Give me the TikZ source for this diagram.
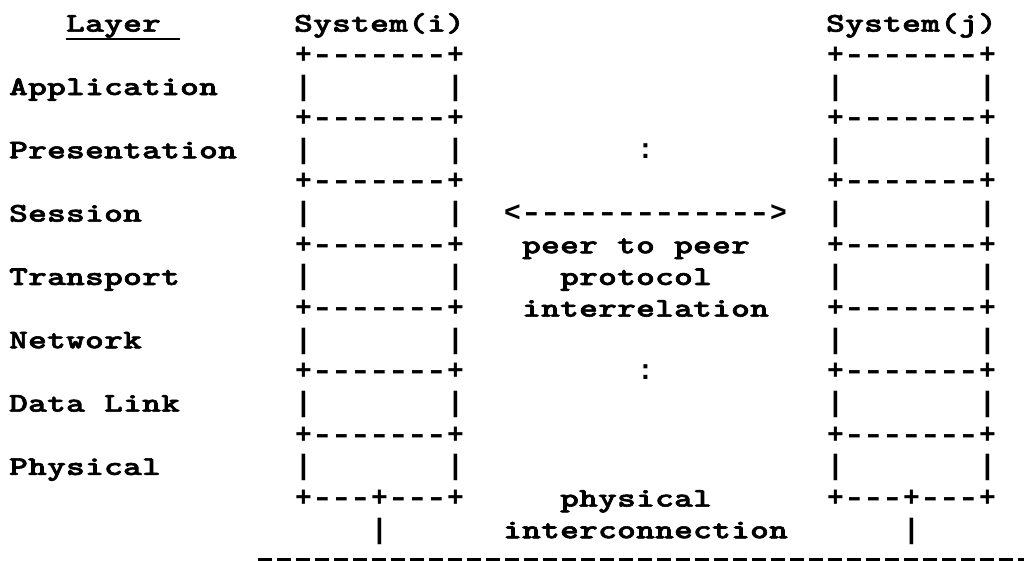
\documentclass[tikz,border=0pt]{standalone}
\usepackage{fontspec}
\usepackage{graphicx}
\newfontfamily\asciifont{lmmonolt10-bold}[Extension=.otf, FakeBold=2]
\newfontfamily\boxfont{Liberation Mono}
\def\monoscale{1}
\makeatletter
\def\mono#1{\mono@#1\@nil}
\def\mono@#1{\ifx#1\@nil\else
  \ifx#1-\makebox[19pt][c]{\scalebox{1.35}[1]{-}}\else
  \makebox[19pt][c]{\scalebox{\monoscale}[1]{#1}}\fi
  \expandafter\mono@\fi}
\makeatother
\begin{document}
\begin{tikzpicture}[x=1pt,y=-1pt,
  ascii/.style={font={\asciifont\fontsize{27pt}{27pt}\selectfont\def\monoscale{1.32}},
    anchor=base west, inner sep=0pt, outer sep=0pt},
  boxch/.style={font={\boxfont\bfseries\fontsize{28pt}{28pt}\selectfont\def\monoscale{1}},
    anchor=base west, inner sep=0pt, outer sep=0pt},
  wirestyle/.style={line width=3.6pt, dash pattern=on 14pt off 5pt}]
\clip (0,0) rectangle (1024,561);
\def\cx#1{9+#1*19}
\def\ry#1{31.7+#1*31.66}
% header
\node[ascii] (layer) at ({\cx{3}},{\ry{0}}) {\mono{Layer}};
\draw[line width=2.4pt] ([yshift=-7.6pt]layer.base west) -- ++(114,0) coordinate (layerend);
\node[ascii] (sysi) at ({\cx{15}},{\ry{0}}) {\mono{System(i)}};
\node[ascii] (sysj) at ({\cx{43}},{\ry{0}}) {\mono{System(j)}};
% layer names
\node[ascii] (app)  at ({\cx{0}},{\ry{2}})  {\mono{Application}};
\node[ascii] (pres) at ({\cx{0}},{\ry{4}})  {\mono{Presentation}};
\node[ascii] (sess) at ({\cx{0}},{\ry{6}})  {\mono{Session}};
\node[ascii] (trans) at ({\cx{0}},{\ry{8}}) {\mono{Transport}};
\node[ascii] (net)  at ({\cx{0}},{\ry{10}}) {\mono{Network}};
\node[ascii] (dl)   at ({\cx{0}},{\ry{12}}) {\mono{Data~Link}};
\node[ascii] (phys) at ({\cx{0}},{\ry{14}}) {\mono{Physical}};
% boxes
\foreach \r in {1,3,5,7,9,11,13} {
  \node[boxch] (li\r) at ({\cx{15}},{\ry{\r}}) {\mono{+-------+}};
  \node[boxch] (ri\r) at ({\cx{43}},{\ry{\r}}) {\mono{+-------+}};
}
\foreach \r in {2,4,6,8,10,12,14} {
  \node[boxch] (lbl\r) at ({\cx{15}},{\ry{\r}}) {\mono{|}};
  \node[boxch] (lbr\r) at ({\cx{23}},{\ry{\r}}) {\mono{|}};
  \node[boxch] (rbl\r) at ({\cx{43}},{\ry{\r}}) {\mono{|}};
  \node[boxch] (rbr\r) at ({\cx{51}},{\ry{\r}}) {\mono{|}};
}
\node[boxch] (lbot) at ({\cx{15}},{\ry{15}}) {\mono{+---+---+}};
\node[boxch] (rbot) at ({\cx{43}},{\ry{15}}) {\mono{+---+---+}};
\node[boxch] (lstem) at ({\cx{19}},{\ry{16}}) {\mono{|}};
\node[boxch] (rstem) at ({\cx{47}},{\ry{16}}) {\mono{|}};
% middle texts
\node[boxch] (dots1) at ({\cx{33}},{\ry{4}}) {\mono{:}};
\node[boxch] (arrow) at ({\cx{26}},{\ry{6}}) {\mono{<------------->}};
\node[ascii] (peer)  at ({\cx{27}},{\ry{7}}) {\mono{peer~to~peer}};
\node[ascii] (proto) at ({\cx{29}},{\ry{8}}) {\mono{protocol}};
\node[ascii] (inter) at ({\cx{27}},{\ry{9}}) {\mono{interrelation}};
\node[boxch] (dots2) at ({\cx{33}},{\ry{11}}) {\mono{:}};
\node[ascii] (physl) at ({\cx{29}},{\ry{15}}) {\mono{physical}};
\node[ascii] (icon)  at ({\cx{26}},{\ry{16}}) {\mono{interconnection}};
% bottom line (physical medium)
\coordinate (wirestart) at ({\cx{13}+2},559.5);
\coordinate (wireend) at (1030,559.5);
\draw[wirestyle] (wirestart) -- (wireend);
\end{tikzpicture}
\end{document}
